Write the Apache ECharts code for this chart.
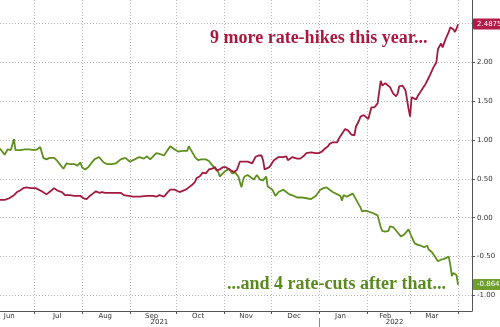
<!DOCTYPE html>
<html><head><meta charset="utf-8">
<script src="https://cdn.jsdelivr.net/npm/echarts@6/dist/echarts.min.js"></script>
<style>html,body{margin:0;padding:0;background:#fff}#c{width:500px;height:327px}</style>
</head><body><div id="c"></div>
<script>
// ---- Data ----
const hikeDates = ['2021-06-09','2021-06-12','2021-06-15','2021-06-18','2021-06-20','2021-06-22','2021-06-24','2021-06-26','2021-06-29','2021-07-02',
'2021-07-03','2021-07-06','2021-07-09','2021-07-11','2021-07-14','2021-07-16','2021-07-19','2021-07-21','2021-07-24','2021-07-27',
'2021-07-31','2021-08-02','2021-08-04','2021-08-06','2021-08-08','2021-08-10','2021-08-12','2021-08-14','2021-08-16','2021-08-19',
'2021-08-26','2021-08-28','2021-08-31','2021-09-03','2021-09-07','2021-09-12','2021-09-16','2021-09-18','2021-09-20','2021-09-23',
'2021-09-25','2021-09-27','2021-09-30','2021-10-03','2021-10-07','2021-10-09','2021-10-11','2021-10-13','2021-10-14','2021-10-16',
'2021-10-18','2021-10-20','2021-10-22','2021-10-24','2021-10-26','2021-10-27','2021-10-29','2021-10-31','2021-11-02','2021-11-05',
'2021-11-07','2021-11-09','2021-11-11','2021-11-13','2021-11-16','2021-11-19','2021-11-21','2021-11-23','2021-11-25','2021-11-26',
'2021-11-27','2021-11-28','2021-11-30','2021-12-02','2021-12-03','2021-12-04','2021-12-06','2021-12-07','2021-12-09','2021-12-11',
'2021-12-12','2021-12-15','2021-12-16','2021-12-18','2021-12-20','2021-12-22','2021-12-24','2021-12-27','2021-12-30','2022-01-01',
'2022-01-03','2022-01-04','2022-01-05','2022-01-07','2022-01-08','2022-01-10','2022-01-11','2022-01-13','2022-01-14','2022-01-16',
'2022-01-18','2022-01-20','2022-01-22','2022-01-24','2022-01-25','2022-01-27','2022-01-28','2022-01-30','2022-01-31','2022-02-02',
'2022-02-04','2022-02-06','2022-02-08','2022-02-10','2022-02-11','2022-02-13','2022-02-16','2022-02-18','2022-02-20','2022-02-21',
'2022-02-22','2022-02-24','2022-02-26','2022-02-27','2022-02-28','2022-03-01','2022-03-02','2022-03-03','2022-03-05','2022-03-06',
'2022-03-09','2022-03-11','2022-03-13','2022-03-14','2022-03-16','2022-03-18','2022-03-19','2022-03-21','2022-03-22','2022-03-24',
'2022-03-26','2022-03-27','2022-03-29','2022-03-30','2022-03-31','2022-04-01'];
const hikeValues = [0.23,0.23,0.25,0.29,0.33,0.35,0.38,0.39,0.38,0.38,
0.36,0.34,0.30,0.33,0.38,0.35,0.33,0.29,0.29,0.28,
0.28,0.25,0.24,0.28,0.31,0.34,0.32,0.33,0.32,0.32,
0.32,0.29,0.28,0.27,0.27,0.28,0.28,0.27,0.29,0.27,
0.32,0.36,0.36,0.33,0.36,0.39,0.42,0.46,0.51,0.53,
0.58,0.57,0.62,0.63,0.65,0.61,0.62,0.65,0.65,0.61,
0.59,0.61,0.72,0.72,0.72,0.70,0.78,0.80,0.80,0.74,
0.62,0.60,0.65,0.71,0.74,0.72,0.78,0.80,0.78,0.79,
0.74,0.78,0.80,0.76,0.76,0.79,0.83,0.84,0.83,0.83,
0.85,0.83,0.89,0.92,0.95,0.97,0.99,0.97,1.02,1.08,
1.14,1.12,1.07,1.06,1.17,1.25,1.30,1.32,1.30,1.27,
1.42,1.42,1.47,1.76,1.70,1.73,1.68,1.60,1.56,1.60,
1.69,1.70,1.64,1.63,1.40,1.30,1.55,1.57,1.52,1.57,
1.66,1.72,1.80,1.84,1.93,2.00,2.17,2.24,2.19,2.30,
2.39,2.45,2.42,2.39,2.43,2.4875];

const cutDates = ['2021-06-09','2021-06-12','2021-06-14','2021-06-16','2021-06-18','2021-06-19','2021-06-22','2021-06-25','2021-06-28','2021-07-01',
'2021-07-03','2021-07-05','2021-07-07','2021-07-09','2021-07-11','2021-07-14','2021-07-16','2021-07-18','2021-07-20','2021-07-22',
'2021-07-24','2021-07-27','2021-07-29','2021-07-31','2021-08-01','2021-08-03','2021-08-05','2021-08-07','2021-08-09','2021-08-12',
'2021-08-13','2021-08-15','2021-08-17','2021-08-20','2021-08-23','2021-08-26','2021-08-29','2021-09-01','2021-09-04','2021-09-07',
'2021-09-10','2021-09-12','2021-09-14','2021-09-16','2021-09-18','2021-09-20','2021-09-23','2021-09-25','2021-09-27','2021-09-29',
'2021-10-02','2021-10-05','2021-10-08','2021-10-09','2021-10-11','2021-10-13','2021-10-15','2021-10-17','2021-10-20','2021-10-22',
'2021-10-24','2021-10-26','2021-10-28','2021-10-29','2021-10-30','2021-11-01','2021-11-04','2021-11-06','2021-11-08','2021-11-10',
'2021-11-12','2021-11-13','2021-11-14','2021-11-16','2021-11-18','2021-11-20','2021-11-22','2021-11-24','2021-11-26','2021-11-28',
'2021-11-29','2021-12-02','2021-12-04','2021-12-06','2021-12-07','2021-12-09','2021-12-11','2021-12-13','2021-12-16','2021-12-18',
'2021-12-21','2021-12-24','2021-12-27','2021-12-30','2021-12-31','2022-01-02','2022-01-04','2022-01-06','2022-01-08','2022-01-10',
'2022-01-13','2022-01-15','2022-01-16','2022-01-17','2022-01-19','2022-01-21','2022-01-23','2022-01-24','2022-01-26','2022-01-28',
'2022-01-29','2022-01-31','2022-02-02','2022-02-03','2022-02-05','2022-02-06','2022-02-08','2022-02-10','2022-02-11','2022-02-13',
'2022-02-15','2022-02-16','2022-02-18','2022-02-19','2022-02-21','2022-02-23','2022-02-25','2022-02-26','2022-02-28','2022-03-01',
'2022-03-03','2022-03-04','2022-03-06','2022-03-08','2022-03-10','2022-03-12','2022-03-13','2022-03-15','2022-03-17','2022-03-19',
'2022-03-21','2022-03-23','2022-03-24','2022-03-26','2022-03-27','2022-03-28','2022-03-29','2022-03-31','2022-04-01'];
const cutValues = [0.89,0.81,0.88,0.87,1.01,0.87,0.87,0.88,0.88,0.87,
0.88,0.91,0.77,0.75,0.77,0.77,0.73,0.68,0.63,0.70,
0.69,0.69,0.67,0.71,0.65,0.62,0.65,0.70,0.75,0.78,
0.77,0.71,0.69,0.69,0.70,0.75,0.77,0.72,0.75,0.78,
0.76,0.79,0.75,0.79,0.83,0.82,0.80,0.86,0.92,0.89,
0.85,0.86,0.86,0.92,0.85,0.78,0.74,0.75,0.75,0.73,
0.68,0.63,0.59,0.53,0.51,0.59,0.63,0.57,0.58,0.53,
0.39,0.48,0.53,0.55,0.52,0.49,0.55,0.49,0.48,0.53,
0.40,0.36,0.28,0.33,0.32,0.36,0.33,0.30,0.28,0.26,
0.26,0.25,0.24,0.28,0.26,0.36,0.38,0.39,0.36,0.33,
0.30,0.28,0.22,0.29,0.27,0.29,0.31,0.29,0.20,0.13,
0.08,0.09,0.08,0.09,0.06,0.08,0.03,-0.12,-0.17,-0.18,
-0.17,-0.11,-0.12,-0.12,-0.19,-0.24,-0.22,-0.22,-0.15,-0.20,
-0.29,-0.33,-0.35,-0.36,-0.38,-0.36,-0.41,-0.44,-0.50,-0.56,
-0.54,-0.53,-0.51,-0.50,-0.61,-0.75,-0.71,-0.74,-0.8643];

const axisStart = '2021-06-09';
const axisEnd = '2022-04-10';
const monthTickDates = ['2021-07-01','2021-08-01','2021-09-01','2021-10-01','2021-11-01','2021-12-01','2022-01-01','2022-02-01','2022-03-01','2022-04-01'];
const monthLabelDates = ['2021-06-15','2021-07-16','2021-08-16','2021-09-15','2021-10-15','2021-11-15','2021-12-16','2022-01-15','2022-02-13','2022-03-15'];
const monthLabels = ['Jun','Jul','Aug','Sep','Oct','Nov','Dec','Jan','Feb','Mar'];
const yearLabelDates = ['2021-09-20','2022-02-19'];
const yearLabels = ['2021','2022'];
const yearBreakDates = ['2022-01-01'];
const yTickValues = [-1,-0.5,0,0.5,1,1.5,2,2.5];
const yLabelValues = [-1,-0.5,0,0.5,1,1.5,2];
const hikeText = '9 more rate-hikes this year...';
const cutText = '...and 4 rate-cuts after that...';

// ---- helpers ----
function toTime(s){ const p = s.split('-').map(Number); return Date.UTC(p[0], p[1]-1, p[2]); }
const monthLabelTimes = monthLabelDates.map(toTime);
const yearLabelTimes = yearLabelDates.map(toTime);
const hikeData = hikeDates.map((d,i)=>[toTime(d), hikeValues[i]]);
const cutData = cutDates.map((d,i)=>[toTime(d), cutValues[i]]);
const lastHike = hikeValues[hikeValues.length-1];
const lastCut = cutValues[cutValues.length-1];

function nearestLabel(times, labels, v){
  let best = -1, bd = Infinity;
  for (let i=0;i<times.length;i++){ const d = Math.abs(times[i]-v); if (d<bd){bd=d;best=i;} }
  return bd < 86400000 ? labels[best] : '';
}

const RED = '#a31a40', GREEN = '#5f8f1f';
const gridDot = {show:true, lineStyle:{type:[1,2], color:'#b4b4b4', width:1}};
const lblFont = 'DejaVu Sans';

function badge(value, bg){
  return {
    silent:true, symbol:['none','none'], animation:false,
    lineStyle:{color:'rgba(0,0,0,0)', width:0},
    data:[{yAxis:value}],
    label:{show:true, position:'end', distance:1, formatter:String(value), backgroundColor:bg, color:'#fff',
      padding:[2,3,2,4], fontSize:7, fontFamily:lblFont, borderRadius:1}
  };
}

const chart = echarts.init(document.getElementById('c'));
chart.setOption({
  animation:false,
  backgroundColor:'#ffffff',
  grid:{left:0, right:28, top:0, bottom:16, containLabel:false},
  xAxis:[{
    type:'value', min:toTime(axisStart), max:toTime(axisEnd), scale:true,
    axisLine:{show:true, onZero:false, lineStyle:{color:'#555', width:1}},
    axisTick:{show:true, customValues:monthTickDates.map(toTime), length:3, lineStyle:{color:'#555'}},
    axisLabel:{show:true, customValues:monthLabelTimes, hideOverlap:false, margin:2, fontSize:7, color:'#333', fontFamily:lblFont,
      formatter:function(v){ return nearestLabel(monthLabelTimes, monthLabels, +v); }},
    splitLine:gridDot
  },{
    type:'value', min:toTime(axisStart), max:toTime(axisEnd), scale:true, position:'bottom', offset:7,
    axisLine:{show:false, onZero:false},
    axisTick:{show:true, customValues:yearBreakDates.map(toTime), length:9, lineStyle:{color:'#888'}},
    axisLabel:{show:true, customValues:yearLabelTimes, hideOverlap:false, margin:1, fontSize:7, color:'#333', fontFamily:lblFont,
      formatter:function(v){ return nearestLabel(yearLabelTimes, yearLabels, +v); }},
    splitLine:{show:false}
  }],
  yAxis:{
    type:'value', position:'right', min:-1.2, max:2.8,
    axisLine:{show:true, lineStyle:{color:'#555', width:1}},
    axisTick:{show:true, customValues:yTickValues, length:3, lineStyle:{color:'#555'}},
    axisLabel:{show:true, customValues:yLabelValues, margin:5, fontSize:7, color:'#333', fontFamily:lblFont,
      formatter:function(v){ return (+v).toFixed(2); }},
    splitLine:gridDot
  },
  series:[{
    type:'line', name:'cuts', data:cutData, showSymbol:false, symbol:'none', clip:false,
    lineStyle:{color:GREEN, width:1.8}, itemStyle:{color:GREEN},
    markLine:badge(lastCut, '#6e9e2e')
  },{
    type:'line', name:'hikes', data:hikeData, showSymbol:false, symbol:'none', clip:false,
    lineStyle:{color:RED, width:1.8}, itemStyle:{color:RED},
    markLine:badge(lastHike, '#b31b48')
  }],
  graphic:[
    {type:'text', left:210, top:29, z:10, style:{text:hikeText, font:'bold 18px "Liberation Serif"', fill:'#a8183f'}},
    {type:'text', left:227, top:275, z:10, style:{text:cutText, font:'bold 18px "Liberation Serif"', fill:'#5a8a1e'}}
  ]
});
</script></body></html>
